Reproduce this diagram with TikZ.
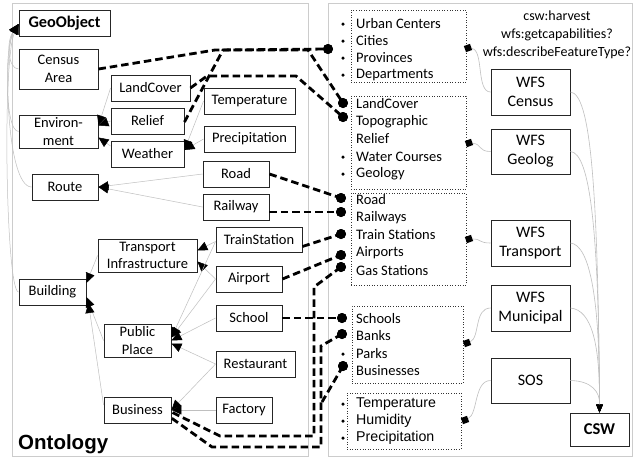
\documentclass[tikz,border=0pt]{standalone}
\usepackage{fontspec}
\setmainfont{Carlito}
\newfontfamily\arialf{Liberation Sans}
\usetikzlibrary{arrows.meta}
\begin{document}
\begin{tikzpicture}[x=1pt,y=-1pt,
 box/.style={draw=black!85, line width=0.9pt, align=center, inner sep=0pt, font=\fontsize{14.5}{17.4}\selectfont},
 svc/.style={box, minimum width=79pt, font=\fontsize{16}{19}\selectfont},
 lst/.style={draw=black!80, dotted, line width=0.6pt, inner sep=0pt},
 itm/.style={anchor=west, inner sep=0pt, font=\fontsize{14.5}{17.4}\selectfont},
 itma/.style={anchor=west, inner sep=0pt, font=\arialf\fontsize{14.2}{17}\selectfont},
 bigdot/.style={circle, fill=black, inner sep=0pt, minimum size=10pt},
 smalldot/.style={circle, fill=black, inner sep=0pt, minimum size=3.5pt},
 sq/.style={fill=black, inner sep=0pt, minimum size=6.5pt, rotate=20},
 isa/.style={draw=black!25, line width=0.5pt, -{Triangle[length=10pt,width=9pt,color=black]}},
 feed/.style={draw=black!25, line width=0.6pt},
 feedarr/.style={feed, -{Triangle[length=8pt,width=6.5pt,color=black]}},
 link/.style={draw=black, line width=2.8pt, dash pattern=on 7.5pt off 4pt},
]
\useasboundingbox (0,0) rectangle (633,459);
\fill[white] (0,0) rectangle (633,459);

% panels
\draw[black!20, line width=0.8pt] (12,3) rectangle (308,456);
\draw[black!20, line width=0.8pt] (328,3) rectangle (632,456);
\node[anchor=base west, inner sep=0pt, font=\arialf\bfseries\fontsize{20.5}{24}\selectfont] (ontlabel) at (18,449) {Ontology};

% ontology nodes
\node[box, minimum width=91pt, minimum height=26pt, font=\bfseries\fontsize{16.3}{19}\selectfont] (geo) at (64.5,23) {GeoObject};
\node[box, minimum width=79pt, minimum height=40pt] (census) at (58.5,69) {Census\\Area};
\node[box, minimum width=79pt, minimum height=26pt] (landcover) at (150.5,88) {LandCover};
\node[box, minimum width=73pt, minimum height=26pt] (relief) at (147.5,121) {Relief};
\node[box, minimum width=79pt, minimum height=33pt] (env) at (58.5,131.5) {Environ-\\ment};
\node[box, minimum width=73pt, minimum height=26pt] (weather) at (147.5,154) {Weather};
\node[box, minimum width=91pt, minimum height=26pt] (temp) at (249.5,101) {Temperature};
\node[box, minimum width=91pt, minimum height=26pt] (precip) at (249.5,139) {Precipitation};
\node[box, minimum width=66pt, minimum height=26pt] (road) at (236,174) {Road};
\node[box, minimum width=66pt, minimum height=26pt] (railway) at (236,207) {Railway};
\node[box, minimum width=66pt, minimum height=26pt] (route) at (65,187) {Route};
\node[box, minimum width=86pt, minimum height=25pt] (train) at (259,239.5) {TrainStation};
\node[box, minimum width=66pt, minimum height=26pt] (airport) at (249,279) {Airport};
\node[box, minimum width=99pt, minimum height=33pt] (ti) at (147.5,255.5) {Transport\\Infrastructure};
\node[box, minimum width=67pt, minimum height=26pt] (building) at (52.5,292) {Building};
\node[box, minimum width=66pt, minimum height=26pt] (school) at (249,318) {School};
\node[box, minimum width=67pt, minimum height=33pt] (pp) at (137.5,340.5) {Public\\Place};
\node[box, minimum width=79pt, minimum height=26pt] (rest) at (255.5,364) {Restaurant};
\node[box, minimum width=56pt, minimum height=26pt] (factory) at (244,410) {Factory};
\node[box, minimum width=67pt, minimum height=26pt] (business) at (137.5,410) {Business};

% is-a connectors
\draw[isa] (census.west) .. controls (8,69) and (6,42) .. ([yshift=-1pt]geo.west);
\draw[isa] (env.west) .. controls (4,131) and (5,45) .. ([yshift=-1pt]geo.west);
\draw[isa] (route.west) .. controls (6,187) and (3,50) .. ([yshift=-1pt]geo.west);
\draw[isa] (building.west) .. controls (6,292) and (2,60) .. ([yshift=-1pt]geo.west);
\draw[isa] (landcover.west) -- ([yshift=6pt]env.east);
\draw[isa] (relief.west) -- ([yshift=6pt]env.east);
\draw[isa] ([yshift=8pt]weather.west) -- ([yshift=-6pt]env.east);
\draw[isa] (temp.west) -- ([yshift=4pt]weather.east);
\draw[isa] (precip.west) -- ([yshift=4pt]weather.east);
\draw[isa] (road.west) -- (route.east);
\draw[isa] (railway.west) -- (route.east);
\draw[isa] ([yshift=-2pt]train.west) -- ([yshift=5pt]ti.east);
\draw[isa] (airport.west) -- ([yshift=-6pt]ti.east);
\draw[isa] (ti.west) -- ([yshift=9pt]building.east);
\draw[isa] (pp.west) -- ([yshift=-5pt]building.east);
\draw[isa] ([yshift=5pt]business.west) -- ([xshift=2pt,yshift=-11pt]building.east);
\draw[isa] ([yshift=-2pt]train.west) -- ([yshift=3pt]pp.east);
\draw[isa] (airport.west) -- ([yshift=3pt]pp.east);
\draw[isa] (school.west) -- (pp.east);
\draw[isa] (rest.west) -- ([yshift=-3pt]pp.east);
\draw[isa] (rest.west) -- (business.east);
\draw[isa] (factory.west) -- (business.east);

% lists
\node[lst, minimum width=115pt, minimum height=72pt] (l1) at (408.5,46) {};
\node[lst, minimum width=115pt, minimum height=93pt] (l2) at (408.5,142.5) {};
\node[lst, minimum width=115pt, minimum height=92pt] (l3) at (408.5,239) {};
\node[lst, minimum width=111pt, minimum height=77pt] (l4) at (407.5,344.5) {};
\node[lst, minimum width=114pt, minimum height=56pt] (l5) at (404,421) {};

\node[itm] (u1) at (356,24) {Urban Centers};
\node[itm] (u2) at (356,41) {Cities};
\node[itm] (u3) at (356,58) {Provinces};
\node[itm] (u4) at (356,75) {Departments};
\node[itm] (g1) at (356,104) {LandCover};
\node[itm] (g2) at (356,122) {Topographic};
\node[itm] (g3) at (356,139) {Relief};
\node[itm] (g4) at (356,157) {Water Courses};
\node[itm] (g5) at (356,174) {Geology};
\node[itm] (t1) at (356,200) {Road};
\node[itm] (t2) at (356,218) {Railways};
\node[itm] (t3) at (356,235) {Train Stations};
\node[itm] (t4) at (356,253) {Airports};
\node[itm] (t5) at (356,271) {Gas Stations};
\node[itm] (m1) at (356,319) {Schools};
\node[itm] (m2) at (356,336) {Banks};
\node[itm] (m3) at (356,354) {Parks};
\node[itm] (m4) at (356,371) {Businesses};
\node[itma] (s1) at (356,404) {Temperature};
\node[itma] (s2) at (356,421) {Humidity};
\node[itma] (s3) at (356,438) {Precipitation};

% services
\node[svc, minimum height=46pt] (wcensus) at (530.5,92) {WFS\\Census};
\node[svc, minimum height=45pt] (wgeolog) at (530.5,151.5) {WFS\\Geolog};
\node[svc, minimum height=46pt] (wtrans) at (530.5,243) {WFS\\Transport};
\node[svc, minimum height=46pt] (wmuni) at (530.5,308) {WFS\\Municipal};
\node[svc, minimum height=45pt] (sos) at (530.5,380.5) {SOS};
\node[box, minimum width=59pt, minimum height=33pt, font=\bfseries\fontsize{16.5}{19}\selectfont] (csw) at (599.5,429.5) {CSW};
\node[align=center, inner sep=0pt, font=\fontsize{14}{18}\selectfont] (ops) at (557,35) {csw:harvest\\wfs:getcapabilities?\\wfs:describeFeatureType?};

% squares
\node[sq] (sq1) at (468,48) {};
\node[sq] (sq2) at (469,143) {};
\node[sq] (sq3) at (469,239) {};
\node[sq] (sq4) at (467,343) {};
\node[sq] (sq5) at (465,420) {};

\draw[feed] (sq1) .. controls (484,50) and (476,92) .. (wcensus.west);
\draw[feed] (sq2) .. controls (482,144) and (478,151.5) .. (wgeolog.west);
\draw[feed] (sq3) .. controls (482,239) and (478,243) .. (wtrans.west);
\draw[feed] (sq4) .. controls (480,338) and (474,308) .. (wmuni.west);
\draw[feed] (sq5) .. controls (478,414) and (474,380.5) .. (sos.west);

\draw[feedarr] (wcensus.east) .. controls (590,94) and (598,180) .. (csw.north);
\draw[feedarr] (wgeolog.east) .. controls (590,153) and (599,230) .. (csw.north);
\draw[feedarr] (wtrans.east) .. controls (590,245) and (600,300) .. (csw.north);
\draw[feedarr] (wmuni.east) .. controls (592,310) and (600,345) .. (csw.north);
\draw[feedarr] (sos.east) .. controls (592,381) and (600,392) .. (csw.north);

% dots
\node[bigdot] (d1) at (328,49) {};
\node[bigdot] (d2a) at (343,103) {};
\node[bigdot] (d2b) at (343,117) {};
\node[bigdot] (d3a) at (341,198) {};
\node[bigdot] (d3b) at (341,212) {};
\node[bigdot] (d3c) at (341,234) {};
\node[bigdot] (d3d) at (341,255) {};
\node[bigdot] (d3e) at (341,267) {};
\node[bigdot] (d4a) at (342,318) {};
\node[bigdot] (d4b) at (342,334) {};
\node[bigdot] (d4d) at (343,366) {};
\foreach \yy in {24,41,58,75,157,174,354,404,421,438}
  \node[smalldot] at (343,\yy) {};

% dashed links
\draw[link] (census.east) -- (215,50) -- (d1.center);
\draw[link] ([yshift=-1pt]relief.east) -- (223,50) -- (308,50) -- (d2a.center);
\draw[link] (landcover.east) -- (207,76) -- (296,76) -- (d2b.center);
\draw[link] (road.east) -- (d3a.center);
\draw[link] ([yshift=-5pt]railway.east) -- (d3b.center);
\draw[link] ([yshift=-7pt]train.east) -- (d3c.center);
\draw[link] (airport.east) -- (d3d.center);
\draw[link] (d3e.center) -- (314,287) -- (314,436) -- (220,436) -- ([yshift=-2pt]business.east);
\draw[link] (school.east) -- (d4a.center);
\draw[link] (d4b.center) -- (321,346) -- (321,447) -- (212,447) -- ([yshift=-8pt]business.east);
\draw[link] (d4d.center) -- (322,402);

% redraw dots on top
\foreach \dd in {d1,d2a,d2b,d3a,d3b,d3c,d3d,d3e,d4a,d4b,d4d}
  \fill (\dd) circle (5pt);
\end{tikzpicture}
\end{document}
